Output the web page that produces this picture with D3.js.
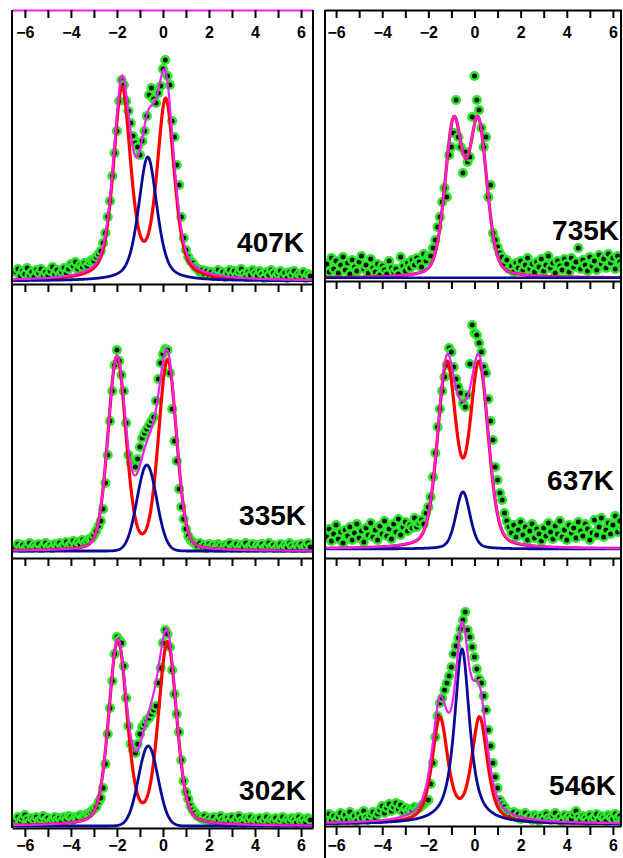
<!DOCTYPE html>
<html><head><meta charset="utf-8">
<script src="https://cdn.jsdelivr.net/npm/d3@7"></script>
<style>body{margin:0;background:#fff;}svg{display:block;}</style>
</head><body>
<svg id="chart" width="623" height="858"></svg>
<script>
// ---------- DATA ----------
const temperatures = ["407K","335K","302K","735K","637K","546K"];
const tickValues = [-6,-5,-4,-3,-2,-1,0,1,2,3,4,5,6];
const tickLabels = [-6,-4,-2,0,2,4,6];
const velocity = [
 -6.4,-6.3,-6.2,-6.1,-6.0,
 -5.9,-5.8,-5.7,-5.6,-5.5,-5.4,-5.3,-5.2,-5.1,-5.0,
 -4.9,-4.8,-4.7,-4.6,-4.5,-4.4,-4.3,-4.2,-4.1,-4.0,
 -3.9,-3.8,-3.7,-3.6,-3.5,-3.4,-3.3,-3.2,-3.1,-3.0,
 -2.9,-2.8,-2.7,-2.6,-2.5,-2.4,-2.3,-2.2,-2.1,-2.0,
 -1.9,-1.8,-1.7,-1.6,-1.5,-1.4,-1.3,-1.2,-1.1,-1.0,
 -0.9,-0.8,-0.7,-0.6,-0.5,-0.4,-0.3,-0.2,-0.1,0.0,
 0.1,0.2,0.3,0.4,0.5,0.6,0.7,0.8,0.9,1.0,
 1.1,1.2,1.3,1.4,1.5,1.6,1.7,1.8,1.9,2.0,
 2.1,2.2,2.3,2.4,2.5,2.6,2.7,2.8,2.9,3.0,
 3.1,3.2,3.3,3.4,3.5,3.6,3.7,3.8,3.9,4.0,
 4.1,4.2,4.3,4.4,4.5,4.6,4.7,4.8,4.9,5.0,
 5.1,5.2,5.3,5.4,5.5,5.6,5.7,5.8,5.9,6.0,
 6.1,6.2,6.3,6.4];
const counts407K = [
 9,12,5,10,7,
 13,6,9,4,11,8,12,6,9,5,
 10,14,7,11,6,9,13,8,12,17,
 15,19,12,16,14,18,15,19,21,20,
 24,27,30,38,48,64,80,105,128,150,
 180,201,196,180,170,158,145,138,134,126,
 140,150,165,186,193,182,178,188,195,212,
 221,205,196,160,144,116,96,64,43,31,
 24,20,18,14,12,9,11,7,10,6,
 9,5,8,11,6,9,4,8,11,6,
 10,5,9,12,7,4,9,6,11,8,
 5,10,7,3,9,6,11,8,4,7,
 10,5,8,3,9,6,10,4,7,5,
 9,3,7,5];
const counts335K = [
 4,7,3,6,2,
 5,8,3,6,4,7,2,5,8,4,
 6,3,7,5,8,4,6,9,5,7,
 10,6,9,7,11,8,10,12,13,16,
 20,25,30,42,68,96,130,160,186,201,
 190,176,160,128,96,88,86,84,92,104,
 113,118,122,126,130,134,150,172,188,197,
 202,201,178,142,110,90,62,44,32,22,
 15,11,9,7,5,8,4,6,3,7,
 4,6,3,7,5,2,6,4,8,3,
 5,7,2,6,4,8,3,5,7,2,
 6,4,7,3,5,8,4,6,2,5,
 7,3,6,4,8,5,2,6,4,7,
 3,5,8,4];
const counts302K = [
 6,9,5,8,11,
 7,4,8,6,9,5,7,10,6,8,
 4,7,9,6,8,5,9,7,10,9,
 6,9,8,11,9,10,12,13,15,17,
 19,24,28,38,62,92,118,145,172,189,
 186,183,160,128,100,82,76,73,82,92,
 99,102,106,108,112,116,120,143,158,183,
 196,192,179,156,132,112,94,66,45,34,
 27,20,16,13,10,9,7,10,6,8,
 5,9,4,7,10,6,3,8,5,9,
 4,7,10,5,3,8,6,9,4,7,
 5,8,3,6,9,4,7,5,8,3,
 6,9,4,7,5,8,6,3,9,5,
 7,4,8,6];
const counts735K = [
 14,6,20,9,17,
 5,13,21,8,15,4,18,11,7,16,
 22,9,13,5,19,10,6,14,3,12,
 8,4,17,10,6,9,4,21,12,7,
 15,10,18,13,20,16,11,24,17,22,
 22,30,38,51,61,76,90,81,123,131,
 145,178,141,131,105,126,116,121,161,202,
 178,168,150,131,141,81,93,45,38,31,
 25,21,14,18,9,12,6,15,10,17,
 8,13,20,9,14,6,16,11,19,7,
 13,22,10,15,5,17,12,8,19,14,
 6,20,11,16,30,9,18,13,7,21,
 12,17,8,23,14,19,10,24,15,20,
 9,22,16,12];
const counts637K = [
 12,20,8,15,24,
 10,17,6,19,13,22,9,16,25,11,
 18,7,21,14,26,12,19,9,23,15,
 28,13,20,10,25,17,30,14,22,27,
 18,24,21,31,22,26,29,25,36,42,
 52,72,96,122,140,158,172,184,201,197,
 182,170,162,156,146,142,154,185,224,216,
 214,206,197,182,176,150,128,109,82,69,
 56,49,36,28,22,16,24,12,19,27,
 14,22,9,18,25,11,20,15,8,21,
 13,26,17,10,23,15,28,12,19,9,
 24,16,21,11,27,18,13,25,20,9,
 16,29,14,22,31,12,19,26,15,24,
 33,17,28,21];
const counts546K = [
 6,10,4,8,3,
 7,11,5,9,4,12,6,8,3,10,
 6,13,7,4,9,12,6,10,14,18,
 11,16,20,13,17,21,15,19,12,16,
 13,15,14,17,15,16,18,20,22,24,
 40,61,87,108,121,126,134,141,148,157,
 170,178,186,195,204,212,194,187,177,167,
 155,145,141,128,114,94,78,61,47,36,
 24,20,17,13,11,8,12,7,10,5,
 9,11,6,8,4,9,7,3,8,5,
 10,6,4,8,11,5,7,3,9,6,
 8,5,10,13,7,4,8,6,3,9,
 5,7,10,4,8,6,3,9,7,5,
 10,6,8,4];
const spectra = [counts407K,counts335K,counts302K,counts735K,counts637K,counts546K];

// fitted sub-spectra (pseudo-Voigt lines): red doublet + blue singlet, magenta = sum
const doubletLeftPos    = [-1.78,-2.00,-1.96,-0.90,-1.20,-1.50];
const doubletLeftAmp    = [190,193,184,152,182,104];
const doubletRightPos   = [0.12,0.20,0.20,0.16,0.20,0.22];
const doubletRightAmp   = [178,190,182,152,182,104];
const doubletFWHM       = [0.88,0.92,0.93,0.90,0.95,0.80];
const doubletLorentz    = [0.5,0.2,0.3,0.3,0.3,0.6];
const singletPos        = [-0.66,-0.70,-0.64,-0.50,-0.50,-0.54];
const singletAmp        = [124,86,80,0,57,175];
const singletFWHM       = [0.95,1.00,1.00,0.90,0.72,0.78];
const singletLorentz    = [0.5,0.0,0.0,0.3,0.3,0.8];

// ---------- LAYOUT ----------
const layout = [
  {left:12,right:313,top:10,bottom:283,base:281,col:0,lx:304,ly:252,topLabels:true,topColor:"#ee22ee"},
  {left:12,right:313,top:284,bottom:553,base:551,col:0,lx:306,ly:525},
  {left:12,right:313,top:558,bottom:828,base:826,col:0,lx:306,ly:800,bottomAxis:true,pad:3},
  {left:325,right:621,top:10,bottom:279,base:278,col:1,lx:619,ly:240,topLabels:true},
  {left:325,right:621,top:281,bottom:551,base:549,col:1,lx:614,ly:490},
  {left:325,right:621,top:558,bottom:826,base:824,col:1,lx:616,ly:795,bottomAxis:true,pad:5}
];
const xDomains = [[-6.56,6.52],[-6.48,6.35]];
const FONT = "'Liberation Sans', Arial, Helvetica, sans-serif";
const GREEN = "#2ee62e", RED = "#ff0000", BLUE = "#0a0a96", MAGENTA = "#ee22ee";

const svg = d3.select("#chart");
svg.append("rect").attr("width",623).attr("height",858).attr("fill","#fff");

function pv(x,c,h,w,eta){
  const r=(x-c)/(w/2), r2=r*r;
  return h*(eta/(1+r2)+(1-eta)*Math.exp(-Math.LN2*r2));
}

layout.forEach((p,i)=>{
  const x = d3.scaleLinear().domain(xDomains[p.col]).range([p.left,p.right]);
  const y = d3.scaleLinear().domain([0,p.base-p.top]).range([p.base,p.top]);
  const clipId = "clip"+i;
  svg.append("clipPath").attr("id",clipId).append("rect")
     .attr("x",p.left).attr("y",p.top).attr("width",p.right-p.left).attr("height",p.bottom-p.top);
  const g = svg.append("g").attr("clip-path",`url(#${clipId})`);

  // data points
  const pts = velocity.map((v,k)=>({v, c:spectra[i][k]}));
  const pg = g.append("g").selectAll("g").data(pts).join("g")
     .attr("transform",d=>`translate(${x(d.v)},${y(d.c)})`);
  pg.append("circle").attr("r",5.1).attr("fill",GREEN);
  pg.append("circle").attr("r",2.5).attr("fill","#111");

  // fit curves
  const xs = d3.range(xDomains[p.col][0], xDomains[p.col][1]+0.001, 0.02);
  const red = xs.map(v=>[v, pv(v,doubletLeftPos[i],doubletLeftAmp[i],doubletFWHM[i],doubletLorentz[i])
                           + pv(v,doubletRightPos[i],doubletRightAmp[i],doubletFWHM[i],doubletLorentz[i])]);
  const blue = xs.map(v=>[v, pv(v,singletPos[i],singletAmp[i],singletFWHM[i],singletLorentz[i])]);
  const total = red.map((d,k)=>[d[0], d[1]+blue[k][1]]);
  const line = d3.line().x(d=>x(d[0])).y(d=>y(d[1]));
  const drawBlue = ()=>g.append("path").attr("d",line(blue)).attr("fill","none").attr("stroke",BLUE).attr("stroke-width",2.8);
  g.append("path").attr("d",line(red)).attr("fill","none").attr("stroke",RED).attr("stroke-width",3.2);
  if (singletAmp[i] > 0) drawBlue();
  g.append("path").attr("d",line(total)).attr("fill","none").attr("stroke",MAGENTA).attr("stroke-width",2.2);
  if (singletAmp[i] === 0) drawBlue();

  // top axis (ticks pointing inwards, labels inside)
  const topAxis = d3.axisBottom(x).tickValues(tickValues).tickSize(8).tickSizeOuter(0).tickPadding(9)
     .tickFormat(d => (p.topLabels && tickLabels.includes(d)) ? d3.format("d")(d) : "");
  const ta = svg.append("g").attr("transform",`translate(0,${p.top})`).call(topAxis);
  ta.attr("font-size",null).attr("font-family",null);
  ta.select(".domain").attr("stroke", p.topColor || "#000").attr("stroke-width",2);
  ta.selectAll(".tick line").attr("stroke","#000").attr("stroke-width",2);
  ta.selectAll(".tick text").style("font-family",FONT).style("font-weight","bold").style("font-size","16px").attr("fill","#000");

  if (p.bottomAxis){
    const bottomAxis = d3.axisBottom(x).tickValues(tickValues).tickSize(9).tickSizeOuter(0).tickPadding(p.pad)
       .tickFormat(d => tickLabels.includes(d) ? d3.format("d")(d) : "");
    const ba = svg.append("g").attr("transform",`translate(0,${p.bottom})`).call(bottomAxis);
    ba.attr("font-size",null).attr("font-family",null);
    ba.select(".domain").attr("stroke","#000").attr("stroke-width",2);
    ba.selectAll(".tick line").attr("stroke","#000").attr("stroke-width",2);
    ba.selectAll(".tick text").style("font-family",FONT).style("font-weight","bold").style("font-size","16px").attr("fill","#000");
  }

  // temperature label
  svg.append("text").attr("x",p.lx).attr("y",p.ly).attr("text-anchor","end")
     .style("font-family",FONT).style("font-weight","bold").style("font-size","28px").attr("fill","#000")
     .text(temperatures[i]);
});

// column borders
const borders = [
  [12,10,12,828],[313,10,313,828],
  [325,10,325,858],[621,10,621,826]
];
svg.append("g").selectAll("line").data(borders).join("line")
  .attr("x1",d=>d[0]).attr("y1",d=>d[1]).attr("x2",d=>d[2]).attr("y2",d=>d[3])
  .attr("stroke","#000").attr("stroke-width",2);
</script>
</body></html>
